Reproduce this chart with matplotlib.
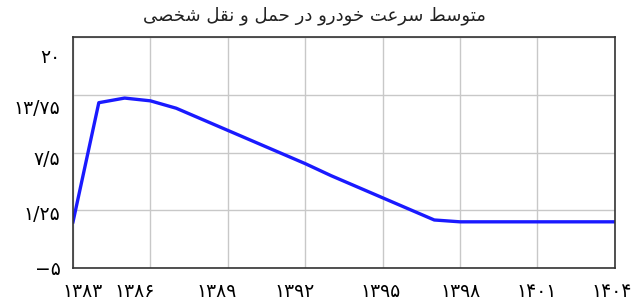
import matplotlib
matplotlib.use("Agg")
import matplotlib.pyplot as plt
import matplotlib.transforms as mtransforms

# data
years = [1383, 1384, 1385, 1386, 1387, 1388, 1389, 1390, 1391, 1392, 1393,
         1394, 1395, 1396, 1397, 1398, 1399, 1400, 1401, 1402, 1403, 1404]
speed = [0.0, 12.9, 13.4, 13.1, 12.3, 11.1, 9.9, 8.7, 7.5, 6.3, 5.0,
         3.8, 2.6, 1.4, 0.2, 0.0, 0.0, 0.0, 0.0, 0.0, 0.0, 0.0]
xticks = [1383, 1386, 1389, 1392, 1395, 1398, 1401, 1404]
xlabels = ["۱۳۸۳", "۱۳۸۶", "۱۳۸۹", "۱۳۹۲", "۱۳۹۵", "۱۳۹۸", "۱۴۰۱", "۱۴۰۴"]
yticks = [-5, 1.25, 7.5, 13.75, 20]
ylabels = ["−۵", "۱/۲۵", "۷/۵", "۱۳/۷۵", "۲۰"]
title = "متوسط سرعت خودرو در حمل و نقل شخصی"

# tiny persian shaper (matplotlib draws no arabic joining itself)
forms = {
    "ا": "\uFE8D\uFE8E", "د": "\uFEA9\uFEAA", "ر": "\uFEAD\uFEAE", "و": "\uFEED\uFEEE",
    "ت": "\uFE95\uFE96\uFE97\uFE98", "ح": "\uFEA1\uFEA2\uFEA3\uFEA4",
    "خ": "\uFEA5\uFEA6\uFEA7\uFEA8", "س": "\uFEB1\uFEB2\uFEB3\uFEB4",
    "ش": "\uFEB5\uFEB6\uFEB7\uFEB8", "ص": "\uFEB9\uFEBA\uFEBB\uFEBC",
    "ط": "\uFEC1\uFEC2\uFEC3\uFEC4", "ع": "\uFEC9\uFECA\uFECB\uFECC",
    "ق": "\uFED5\uFED6\uFED7\uFED8", "ل": "\uFEDD\uFEDE\uFEDF\uFEE0",
    "م": "\uFEE1\uFEE2\uFEE3\uFEE4", "ن": "\uFEE5\uFEE6\uFEE7\uFEE8",
    "ی": "\uFBFC\uFBFD\uFBFE\uFBFF",
}


def shape(s):
    out = []
    for i, ch in enumerate(s):
        if ch not in forms:
            out.append(ch)
            continue
        prev = s[i - 1] if i > 0 else ""
        nxt = s[i + 1] if i + 1 < len(s) else ""
        before = prev in forms and len(forms[prev]) == 4
        after = nxt in forms and len(forms[ch]) == 4
        f = forms[ch]
        if before and after:
            out.append(f[3])
        elif before:
            out.append(f[1])
        elif after:
            out.append(f[2])
        else:
            out.append(f[0])
    return "".join(out)[::-1]


plt.rcParams["font.family"] = ["DejaVu Sans"]

fig = plt.figure(figsize=(6.36, 3.05), dpi=100)
ax = fig.add_axes([0.1148, 0.1213, 0.852, 0.757])

ax.plot(years, speed, color="#1a1aff", lw=2.4, solid_joinstyle="round")

ax.set_xlim(1383, 1404)
ax.set_ylim(-5, 20)
ax.set_xticks(xticks)
ax.set_xticklabels(xlabels, fontsize=13.5)
ax.set_yticks(yticks)
ax.set_yticklabels(ylabels, fontsize=13.5)
ax.tick_params(length=0, pad=9)
ax.tick_params(axis="x", pad=10)

# the source labels sit a bit off their grid lines; nudge them (pixels)
xshift = [10, -16, -11, -11, -2, 1, -1, -3]
yshift = [1, -2, -5, -12, -18]
for lab, dx in zip(ax.get_xticklabels(), xshift):
    lab.set_transform(lab.get_transform() + mtransforms.ScaledTranslation(dx / 100, 0, fig.dpi_scale_trans))
for lab, dy in zip(ax.get_yticklabels(), yshift):
    lab.set_transform(lab.get_transform() + mtransforms.ScaledTranslation(0, dy / 100, fig.dpi_scale_trans))

ax.grid(True, color="#c8c8c8", lw=1)
for sp in ax.spines.values():
    sp.set_color("#333333")
    sp.set_linewidth(1.2)

fig.text(0.495, 0.95, shape(title), ha="center", va="center", fontsize=13, color="#222222")

fig.savefig("out.png", dpi=100)
